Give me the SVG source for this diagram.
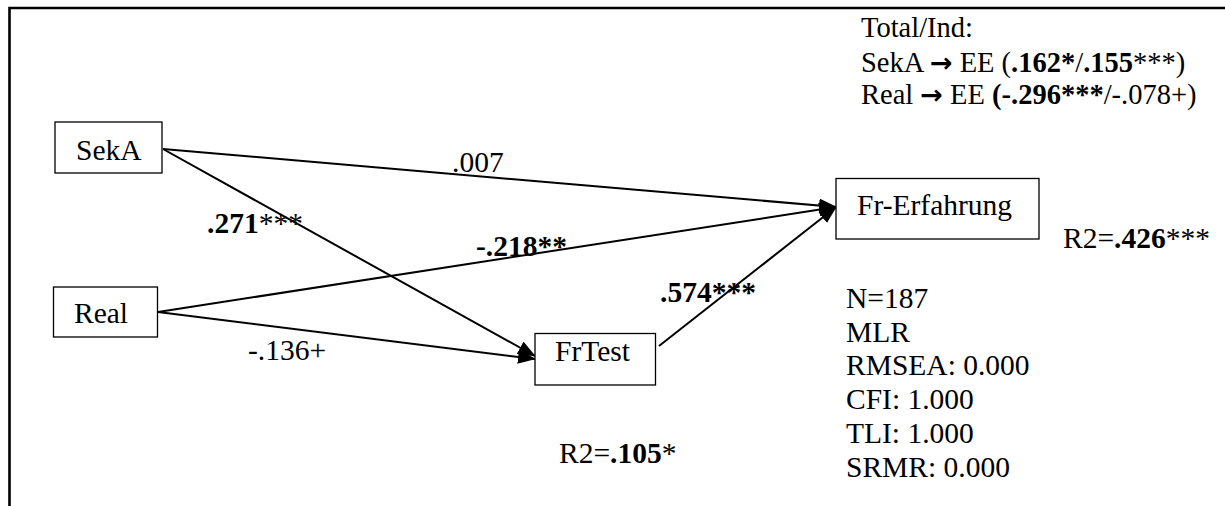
<svg xmlns="http://www.w3.org/2000/svg" width="1225" height="506" viewBox="0 0 1225 506">
  <style>
    text { font-family: "Liberation Serif", "Times New Roman", serif; font-size: 29.5px; fill: #000; }
    .b { font-weight: bold; }
    .sm { font-size: 28.5px; }
    .box { fill: #fff; stroke: #000; stroke-width: 1.3; }
    .edge { stroke: #000; stroke-width: 2; fill: none; marker-end: url(#arr); }
    .arw { font-family: "DejaVu Sans", sans-serif; font-weight: bold; font-size: 27px; }
  </style>
  <defs>
    <marker id="arr" markerWidth="9" markerHeight="7" refX="8.5" refY="3.5" orient="auto" markerUnits="strokeWidth">
      <path d="M0,0 L9,3.5 L0,7 Z" fill="#000"/>
    </marker>
  </defs>

  <rect width="1225" height="506" fill="#fff"/>

  <!-- frame -->
  <path d="M9.5,506 V8 H1225" fill="none" stroke="#000" stroke-width="2.6"/>

  <!-- paths -->
  <g id="connectors">
    <line class="edge" x1="163" y1="149" x2="836" y2="207"/>
    <line class="edge" x1="163" y1="149" x2="535" y2="356"/>
    <line class="edge" x1="158" y1="312" x2="836" y2="207"/>
    <line class="edge" x1="158" y1="312" x2="535" y2="359"/>
    <line class="edge" x1="659" y1="346" x2="836" y2="207"/>
    <text x="452" y="172">.007</text>
    <text x="207" y="233"><tspan class="b">.271</tspan>***</text>
    <text x="476" y="256" class="b">-.218**</text>
    <text x="660" y="302" class="b">.574***</text>
    <text x="248" y="360">-.136+</text>
  </g>

  <g id="SekA">
    <rect class="box" x="55" y="122" width="107" height="51"/>
    <text x="76" y="160">SekA</text>
  </g>

  <g id="Real">
    <rect class="box" x="53.5" y="287" width="104" height="50"/>
    <text x="74" y="323">Real</text>
  </g>

  <g id="FrTest">
    <rect class="box" x="535" y="333.5" width="120.5" height="51.5"/>
    <text x="555" y="361">FrTest</text>
    <text x="559" y="463">R2=<tspan class="b">.105</tspan>*</text>
  </g>

  <g id="Fr-Erfahrung">
    <rect class="box" x="836" y="178.5" width="203" height="60.5"/>
    <text x="857" y="215">Fr-Erfahrung</text>
    <text x="1063" y="248">R2=<tspan class="b">.426</tspan>***</text>
  </g>

  <!-- indirect / total effects -->
  <g id="effects" class="sm">
    <text class="sm" x="861" y="37">Total/Ind:</text>
    <text class="sm" x="861" y="72">SekA <tspan class="arw">→</tspan> EE (<tspan class="b">.162*</tspan>/<tspan class="b">.155</tspan>***)</text>
    <text class="sm" x="861" y="104">Real <tspan class="arw">→</tspan> EE <tspan class="b">(-.296***</tspan>/-.078+)</text>
  </g>

  <!-- model fit -->
  <g id="fit">
    <text x="846" y="308">N=187</text>
    <text x="846" y="342">MLR</text>
    <text x="846" y="375">RMSEA: 0.000</text>
    <text x="846" y="409">CFI: 1.000</text>
    <text x="846" y="443">TLI: 1.000</text>
    <text x="846" y="477">SRMR: 0.000</text>
  </g>
</svg>
